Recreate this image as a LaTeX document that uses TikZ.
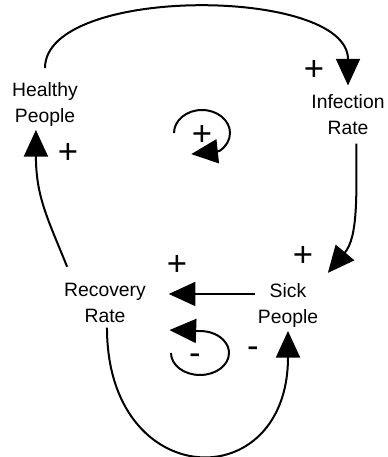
\documentclass[tikz,border=0pt]{standalone}
\usepackage{fontspec}
\setmainfont{Liberation Sans}
\usetikzlibrary{arrows.meta}

\begin{document}
\begin{tikzpicture}[x=0.75pt, y=0.75pt,
  var/.style={align=center, inner sep=2pt, font=\fontsize{14.5}{19.5}\selectfont},
  sign/.style={inner sep=0pt, font=\fontsize{26}{28}\selectfont},
  link/.style={line width=1.5pt, -{Triangle[length=20pt, width=18pt]}}]
\useasboundingbox (0,0) rectangle (387,457);

% variables
\node[var] (healthy) at (45,352) {Healthy\\People};
\node[var] (infection) at (348,342.5) {Infection\\Rate};
\node[var] (sick) at (288,151) {Sick\\People};
\node[var] (recovery) at (105,154) {Recovery\\Rate};

% links
\draw[link, shorten <=9pt, shorten >=4.5pt] (healthy.north) .. controls +(0,95) and +(0,105) .. (infection.north);
\draw[link, shorten <=4.5pt, shorten >=8pt] (infection.-70) to[out=-90, in=50] (sick.north east);
\draw[link, shorten >=15pt] (sick.160) -- (sick.160 -| recovery.east);
\draw[link, shorten <=11pt] (recovery.145) to[out=112, in=-90, looseness=1.1] (healthy.-110);
\draw[link, shorten <=1.5pt] (recovery.-85) .. controls +(0,-167) and +(0,-167) .. (sick.south);

% polarities
\node[sign] (plusinf) at (314,387) {+};
\node[sign] (plushealthy) at (68,304) {+};
\node[sign] (plussick) at (303,201) {+};
\node[sign] (plusrec) at (177,192) {+};
\node[sign] (minussick) at (253,105) {-};

% loops
\coordinate (rloop) at (202,324);
\coordinate (bloop) at (200,104);
\draw[link] (rloop) ++(-28,0) arc[start angle=180, end angle=-52, x radius=28, y radius=23] -- ++(-28,-3);
\draw[link] (bloop) ++(-29,0) arc[start angle=180, end angle=453, x radius=29, y radius=22] -- ++(-29,1);
\node[sign] (plusloop) at (202,322) {+};
\node[sign] (minusloop) at (195,98) {-};
\end{tikzpicture}
\end{document}
